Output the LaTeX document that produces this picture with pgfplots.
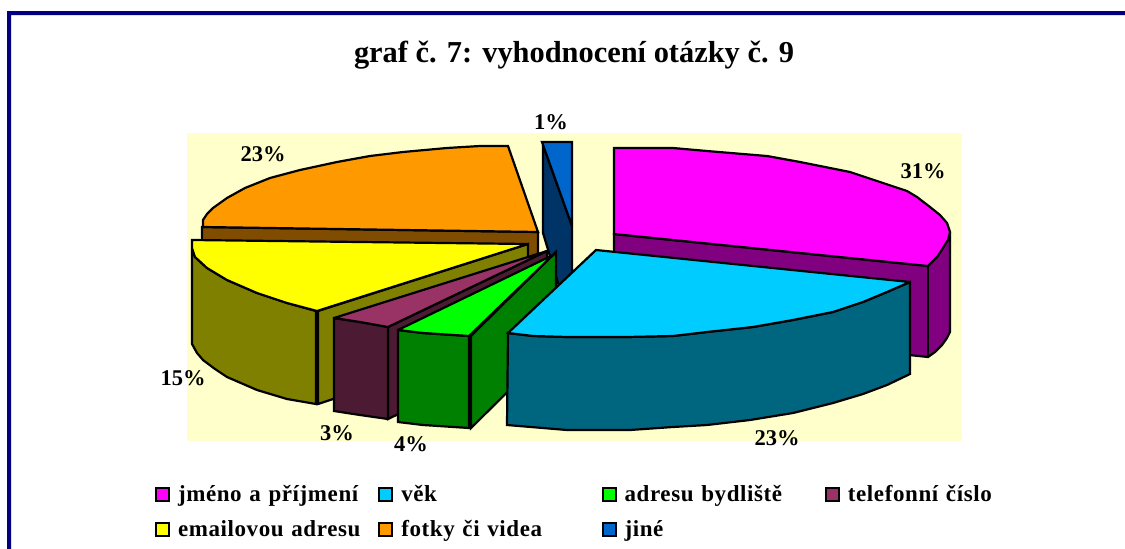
\documentclass[border=0pt]{standalone}
\usepackage{fontspec}
\setmainfont{Liberation Serif}
\usepackage{pgfplots}
\pgfplotsset{compat=1.18}
\definecolor{framec}{HTML}{000080}
\definecolor{bgc}{HTML}{FFFFCC}
\definecolor{mag}{HTML}{FF00FF}\definecolor{magd}{HTML}{800080}
\definecolor{cya}{HTML}{00CCFF}\definecolor{cyad}{HTML}{006680}
\definecolor{gre}{HTML}{00FF00}\definecolor{gred}{HTML}{008000}
\definecolor{plu}{HTML}{993366}\definecolor{plud}{HTML}{4D1A33}
\definecolor{yel}{HTML}{FFFF00}\definecolor{yeld}{HTML}{808000}
\definecolor{ora}{HTML}{FF9900}\definecolor{orad}{HTML}{804D00}
\definecolor{blu}{HTML}{0066CC}\definecolor{blud}{HTML}{003366}
\newcommand{\lab}[3]{\node[font=\fontsize{22.5pt}{24pt}\selectfont\bfseries,inner sep=0pt] at (axis cs:#1,#2) {#3};}
\begin{document}
\begin{tikzpicture}
\begin{axis}[
  scale only axis,width=1125pt,height=549pt,
  xmin=0,xmax=1125,ymin=0,ymax=549,y dir=reverse,hide axis,
  wed/.style={draw=black,line width=2.2pt,line join=miter,miter limit=3,mark=none,forget plot},
  legend columns=4,
  legend cell align=left,
  legend style={at={(axis cs:155,485)},anchor=north west,draw=none,fill=none,inner sep=0pt,outer sep=0pt,
    font=\fontsize{23pt}{24pt}\selectfont\bfseries\addfontfeature{LetterSpace=2.6},
    /tikz/row sep=14.5pt,
    /tikz/column sep=0pt,
    /tikz/nodes={anchor=base west,text width=200.3pt,inner sep=0pt,text depth=5pt,text height=16pt,align=left}},
  legend image code/.code={\draw[#1,line width=2pt] (0pt,0.5pt) rectangle (13pt,13.5pt);\path[draw=none,fill=none] (0pt,0pt) -- (22pt,0pt);},
]
% page and frame
\addplot[draw=none,fill=white,forget plot] coordinates {(0,0)(1125,0)(1125,549)(0,549)} --cycle;
\addplot[draw=none,fill=framec,forget plot] coordinates {(7,11)(1125,11)(1125,15)(11,15)(11,549)(7,549)} --cycle;
\addplot[draw=none,fill=bgc,forget plot] coordinates {(187,133)(962,133)(962,441)(187,441)} --cycle;
% orange
\addplot[wed,fill=orad] coordinates {(202,227)(538,232)(538,323)(202,318)} --cycle;
\addplot[wed,fill=ora] coordinates {(508,146)(538,232)(203,227)(203,220)(207,214)(213,208)(227,198)(245,188)(270,178)(300,170)(337,162)(370,156)(403,152)(447,148)(480,146)} --cycle;
% blue
\addplot[wed,fill=blud] coordinates {(543,145)(572,226)(572,310)(565,300)(558,283)(543,233)} --cycle;
\addplot[wed,fill=blu] coordinates {(542,142)(572,142)(572,226)} --cycle;
% magenta
\addplot[wed,fill=magd] coordinates {(614,234)(928,266)(950,232)(950,332)(947,338)(942,345)(935,352)(928,357)(614,324)} --cycle;
\addplot[wed] coordinates {(928,266)(928,357)} ;
\addplot[wed,fill=mag] coordinates {(614,148)(673,148)(707,151)(767,156)(800,162)(850,172)(877,181)(907,191)(917,197)(930,207)(940,215)(947,223)(950,232)(948,240)(943,248)(937,257)(928,266)(614,234)} --cycle;
% yellow
\addplot[wed,fill=yeld] coordinates {(318,311)(528,244)(528,335)(318,404)} --cycle;
\addplot[wed,fill=yeld] coordinates {(192,248)(195,257)(207,268)(227,280)(257,293)(287,303)(316,311)(316,404)(287,399)(257,390)(227,377)(215,369)(203,360)(197,353)(192,344)} --cycle;
\addplot[wed,fill=yel] coordinates {(192,240)(528,244)(317,311)(287,303)(257,293)(227,280)(207,268)(195,257)(192,248)} --cycle;
% plum
\addplot[wed,fill=plud] coordinates {(388,327)(547,251)(547,343)(388,419)} --cycle;
\addplot[wed,fill=plud] coordinates {(334,318)(360,322)(388,327)(388,419)(360,415)(334,411)} --cycle;
\addplot[wed,fill=plu] coordinates {(334,318)(360,322)(388,327)(547,251)} --cycle;
% green
\addplot[wed,fill=gred] coordinates {(471,336)(556,252)(556,344)(471,428)} --cycle;
\addplot[wed,fill=gred] coordinates {(398,330)(423,333)(469,336)(469,428)(423,425)(398,422)} --cycle;
\addplot[wed,fill=gre] coordinates {(398,330)(423,333)(469,336)(553,255)} --cycle;
% cyan
\addplot[wed,fill=cyad] coordinates {(508,333)(533,336)(567,337)(627,337)(673,336)(707,332)(753,327)(793,320)(833,312)(863,302)(887,292)(910,282)(910,374)(887,385)(863,394)(833,403)(793,413)(750,420)(707,425)(673,427)(630,430)(567,430)(507,425)} --cycle;
\addplot[wed,fill=cya] coordinates {(596,250)(910,282)(887,292)(863,302)(833,312)(793,320)(753,327)(707,332)(673,336)(627,337)(567,337)(533,336)(508,333)} --cycle;
% legend
\addlegendimage{fill=mag}\addlegendentry{jméno a příjmení}
\addlegendimage{fill=cya}\addlegendentry{věk}
\addlegendimage{fill=gre}\addlegendentry{adresu bydliště}
\addlegendimage{fill=plu}\addlegendentry{telefonní číslo}
\addlegendimage{fill=yel}\addlegendentry{emailovou adresu}
\addlegendimage{fill=ora}\addlegendentry{fotky či videa}
\addlegendimage{fill=blu}\addlegendentry{jiné}
% text
\node[font=\fontsize{30.4pt}{32pt}\selectfont\bfseries,inner sep=0pt] at (axis cs:574,55) {graf č. 7: vyhodnocení otázky č. 9};
\lab{923}{171}{31\%}
\lab{777}{438}{23\%}
\lab{551}{122}{1\%}
\lab{263}{154}{23\%}
\lab{183}{378}{15\%}
\lab{337}{433}{3\%}
\lab{411}{444}{4\%}
\end{axis}
\end{tikzpicture}
\end{document}
